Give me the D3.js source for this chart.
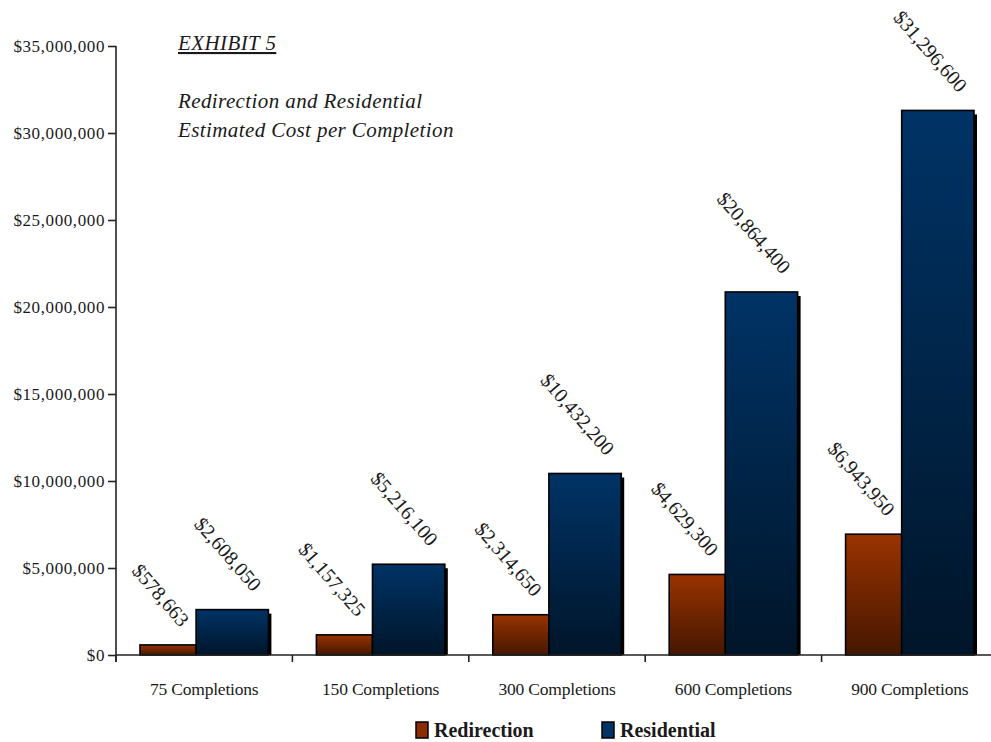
<!DOCTYPE html>
<html>
<head>
<meta charset="utf-8">
<script src="https://cdn.jsdelivr.net/npm/d3@7"></script>
<style>
  body { margin: 0; background: #fff; }
  svg { display: block; }
  text { font-family: "Liberation Serif", "DejaVu Serif", serif; }
</style>
</head>
<body>
<div id="wrapper"></div>
<script>
// data
const categories = ["75 Completions", "150 Completions", "300 Completions", "600 Completions", "900 Completions"]
const redirection = [578663, 1157325, 2314650, 4629300, 6943950]
const residential = [2608050, 5216100, 10432200, 20864400, 31296600]
const seriesNames = ["Redirection", "Residential"]
const yTicks = [0, 5000000, 10000000, 15000000, 20000000, 25000000, 30000000, 35000000]

function drawChart() {
    const dimensions = {
        width: 991,
        height: 742,
        margin: { top: 46, right: -7, bottom: 87, left: 116 },
    }
    dimensions.boundedWidth = dimensions.width - dimensions.margin.left - dimensions.margin.right
    dimensions.boundedHeight = dimensions.height - dimensions.margin.top - dimensions.margin.bottom

    const wrapper = d3.select("#wrapper").append("svg")
        .attr("width", dimensions.width)
        .attr("height", dimensions.height)

    const defs = wrapper.append("defs")
    const gradients = [
        { id: "gradRed", top: "#993300", bottom: "#451700" },
        { id: "gradBlue", top: "#003366", bottom: "#001529" },
    ]
    gradients.forEach(g => {
        const lg = defs.append("linearGradient")
            .attr("id", g.id)
            .attr("x1", 0).attr("y1", 0).attr("x2", 0).attr("y2", 1)
        lg.append("stop").attr("offset", "0%").attr("stop-color", g.top)
        lg.append("stop").attr("offset", "100%").attr("stop-color", g.bottom)
    })

    const bounds = wrapper.append("g")
        .attr("transform", `translate(${dimensions.margin.left},${dimensions.margin.top})`)

    // scales
    const xScale = d3.scaleBand()
        .domain(categories)
        .range([0, dimensions.boundedWidth])
        .padding(0)

    const yScale = d3.scaleLinear()
        .domain([0, 35000000])
        .range([dimensions.boundedHeight, 0])

    const bw = xScale.bandwidth()
    // bar layout inside a band (residential bars are drawn a bit wider)
    const layout = [
        { offset: 0.136, width: 0.318, fill: "url(#gradRed)", values: redirection },
        { offset: 0.454, width: 0.41, fill: "url(#gradBlue)", values: residential },
    ]

    const rows = []
    layout.forEach((s, si) => {
        categories.forEach((c, i) => {
            rows.push({ cat: c, series: si, value: s.values[i], s })
        })
    })

    const barX = d => xScale(d.cat) + d.s.offset * bw
    const barW = d => d.s.width * bw

    // shadows
    bounds.selectAll(".shadow")
        .data(rows)
        .join("rect")
        .attr("class", "shadow")
        .attr("x", d => barX(d) + 3)
        .attr("y", d => yScale(d.value) + 4)
        .attr("width", d => barW(d))
        .attr("height", d => yScale(0) - yScale(d.value) - 4)
        .attr("fill", "#000")

    // bars, ordered by category so each red bar sits under its blue neighbour's shadow
    const order = rows.slice().sort((a, b) => categories.indexOf(a.cat) - categories.indexOf(b.cat) || a.series - b.series)
    bounds.selectAll(".bar")
        .data(order)
        .join("rect")
        .attr("class", "bar")
        .attr("x", d => barX(d))
        .attr("y", d => yScale(d.value))
        .attr("width", d => barW(d))
        .attr("height", d => yScale(0) - yScale(d.value))
        .attr("fill", d => d.s.fill)
        .attr("stroke", "#000")
        .attr("stroke-width", 1.6)

    // value labels
    const fmt = d3.format("$,")
    bounds.selectAll(".vlabel")
        .data(rows)
        .join("text")
        .attr("class", "vlabel")
        .attr("transform", d => `translate(${barX(d) + barW(d) - 16},${yScale(d.value) - 17}) rotate(49)`)
        .attr("text-anchor", "end")
        .attr("font-size", 20)
        .attr("fill", "#1a1a1a")
        .text(d => fmt(d.value))

    // axes
    const yAxis = bounds.append("g")
        .call(d3.axisLeft(yScale).tickValues(yTicks).tickSize(8).tickPadding(3)
            .tickFormat(d3.format("$,")))
    yAxis.select(".domain").attr("d", `M0,0V${dimensions.boundedHeight + 7}`)
    yAxis.selectAll("path, line").attr("stroke", "#222").attr("stroke-width", 1.6)
    yAxis.selectAll("text")
        .attr("font-size", 17)
        .attr("fill", "#1a1a1a")
        .attr("font-family", "Liberation Serif")
        .attr("letter-spacing", "0.6px")

    const xAxis = bounds.append("g")
        .attr("transform", `translate(0,${dimensions.boundedHeight})`)
        .call(d3.axisBottom(xScale).tickSize(0).tickPadding(28))
    xAxis.select(".domain").attr("d", `M0,0H${dimensions.boundedWidth}`)
        .attr("stroke", "#222").attr("stroke-width", 1.6)
    xAxis.selectAll("text")
        .attr("font-size", 17.5)
        .attr("fill", "#1a1a1a")
        .attr("font-family", "Liberation Serif")
        .attr("letter-spacing", "-0.2px")
    // category separators
    xAxis.selectAll(".sep")
        .data(categories)
        .join("line")
        .attr("class", "sep")
        .attr("x1", d => xScale(d)).attr("x2", d => xScale(d))
        .attr("y1", 0).attr("y2", 7)
        .attr("stroke", "#222").attr("stroke-width", 1.6)

    // title block
    const titleLines = [
        { y: 50, text: "EXHIBIT 5", underline: true },
        { y: 108, text: "Redirection and Residential" },
        { y: 137, text: "Estimated Cost per Completion" },
    ]
    wrapper.append("g").attr("transform", "translate(178,0)")
        .selectAll("text")
        .data(titleLines)
        .join("text")
        .attr("y", d => d.y)
        .attr("font-size", 21)
        .attr("font-style", "italic")
        .attr("letter-spacing", "0.4px")
        .attr("text-decoration", d => d.underline ? "underline" : null)
        .attr("fill", "#1a1a1a")
        .text(d => d.text)

    // legend
    const legendX = [416, 602]
    const legend = wrapper.append("g")
    seriesNames.forEach((name, i) => {
        const g = legend.append("g").attr("transform", `translate(${legendX[i]},722)`)
        g.append("rect")
            .attr("width", 12).attr("height", 16)
            .attr("fill", i === 0 ? "#8a2e00" : "#003366")
            .attr("stroke", "#000").attr("stroke-width", 1.5)
        g.append("text")
            .attr("x", 18).attr("y", 15)
            .attr("font-size", 20)
            .attr("font-weight", "bold")
            .attr("fill", "#1a1a1a")
            .text(name)
    })
}
drawChart()
</script>
</body>
</html>
